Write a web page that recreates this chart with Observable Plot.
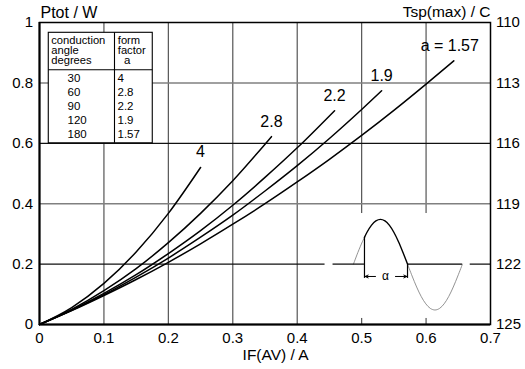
<!DOCTYPE html>
<html><head><meta charset="utf-8">
<script src="https://cdn.jsdelivr.net/npm/d3@7"></script>
<script src="https://cdn.jsdelivr.net/npm/@observablehq/plot@0.6"></script>
<style>body{margin:0;background:#fff;} #chart svg{display:block;}</style>
</head><body><div id="chart"></div>
<script>
// ---- data ----
const formFactors = [4, 2.8, 2.2, 1.9, 1.57];
const conductionAngles = [30, 60, 90, 120, 180];
const curveLabels = ["4", "2.8", "2.2", "1.9", "a = 1.57"];

const iA4   = [0, 0.05, 0.10, 0.15, 0.20, 0.25];
const pA4   = [0, 0.056, 0.136, 0.240, 0.368, 0.520];
const iA28  = [0, 0.05, 0.10, 0.15, 0.20, 0.25, 0.30, 0.36];
const pA28  = [0, 0.050, 0.112, 0.185, 0.271, 0.368, 0.476, 0.622];
const iA22  = [0, 0.05, 0.10, 0.15, 0.20, 0.25, 0.30, 0.35, 0.40, 0.458];
const pA22  = [0, 0.048, 0.103, 0.165, 0.235, 0.311, 0.395, 0.487, 0.585, 0.708];
const iA19  = [0, 0.05, 0.10, 0.15, 0.20, 0.25, 0.30, 0.35, 0.40, 0.45, 0.50, 0.531];
const pA19  = [0, 0.047, 0.099, 0.157, 0.220, 0.289, 0.362, 0.442, 0.526, 0.616, 0.712, 0.774];
const iA157 = [0, 0.05, 0.10, 0.15, 0.20, 0.25, 0.30, 0.35, 0.40, 0.45, 0.50, 0.55, 0.60, 0.643];
const pA157 = [0, 0.046, 0.096, 0.149, 0.206, 0.267, 0.332, 0.400, 0.472, 0.547, 0.626, 0.709, 0.796, 0.873];

const xTicks = [0, 0.1, 0.2, 0.3, 0.4, 0.5, 0.6, 0.7];
const xTickLabels = ["0", "0.1", "0.2", "0.3", "0.4", "0.5", "0.6", "0.7"];
const yTicks = [0, 0.2, 0.4, 0.6, 0.8, 1];
const yTickLabels = ["0", "0.2", "0.4", "0.6", "0.8", "1"];
const tempTickLabels = ["125", "122", "119", "116", "113", "110"];
const gridX = [0.1, 0.2, 0.3, 0.4, 0.5, 0.6];
const gridYDark = [0.2, 0.6];
const gridYLight = [0.4, 0.8];

// waveform inset (illustration), in chart units
const waveLead = [[0.4873,0.2],[0.4941,0.2383],[0.5011,0.274],[0.5044,0.2885]];
const wavePos  = [[0.5044,0.2885],[0.5081,0.3047],[0.5151,0.3282],[0.5221,0.343],[0.5292,0.348],[0.5362,0.343],[0.5432,0.3282],[0.5502,0.3047],[0.5572,0.274],[0.5642,0.2383],[0.5712,0.2]];
const waveNeg  = [[0.5712,0.2],[0.5783,0.1607],[0.5854,0.124],[0.5925,0.0925],[0.5996,0.0684],[0.6067,0.0532],[0.6138,0.048],[0.6209,0.0532],[0.628,0.0684],[0.6351,0.0925],[0.6422,0.124],[0.6493,0.1607],[0.6565,0.2]];

// ---- build tables ----
const seriesX = [iA4, iA28, iA22, iA19, iA157];
const seriesY = [pA4, pA28, pA22, pA19, pA157];
const curves = formFactors.flatMap((a, k) => seriesX[k].map((x, i) => ({a, x, y: seriesY[k][i]})));
const ends = formFactors.map((a, k) => ({a, label: curveLabels[k], x: seriesX[k].at(-1), y: seriesY[k].at(-1)}));

const font = "Liberation Sans, Arial, Helvetica, sans-serif";
// table layout
const T = {x1: 0.0144, x2: 0.1758, xc: 0.1164, y1: 0.6, y2: 0.9659, yh: 0.8434};
const rowY0 = 0.8023, rowStep = 0.0466;
const rows = conductionAngles.map((d, i) => ({angle: String(d), ff: String(formFactors[i]), y: rowY0 - i * rowStep}));
const head1 = [{t: "conduction", y: 0.9301}, {t: "angle", y: 0.8963}, {t: "degrees", y: 0.8625}];
const head2 = [{t: "form", y: 0.9301}, {t: "factor", y: 0.8963}];

const chart = Plot.plot({
  width: 525, height: 369,
  marginLeft: 39, marginRight: 35, marginTop: 22, marginBottom: 45,
  x: {domain: [0, 0.7]},
  y: {domain: [0, 1]},
  style: {fontFamily: font, background: "white", color: "black"},
  marks: [
    Plot.ruleX(gridX, {stroke: "#555", strokeWidth: 1.2}),
    Plot.ruleY(gridYDark, {stroke: "#111", strokeWidth: 1.2}),
    Plot.ruleY(gridYLight, {stroke: "#808080", strokeWidth: 1.5}),
    // inset background
    Plot.rect([0], {x1: 0.4432, x2: 0.6685, y1: 0.02, y2: 0.3675, fill: "white"}),
    // table
    Plot.rect([0], {x1: T.x1, x2: T.x2, y1: T.y1, y2: T.y2, fill: "white", stroke: "black", strokeWidth: 1.1}),
    Plot.ruleY([T.yh], {x1: T.x1, x2: T.x2, stroke: "black", strokeWidth: 1.1}),
    Plot.ruleX([T.xc], {y1: T.y1, y2: T.y2, stroke: "black", strokeWidth: 1.1}),
    Plot.text(head1, {x: 0.0182, y: "y", text: "t", textAnchor: "start", lineAnchor: "bottom", fontSize: 11.2}),
    Plot.text(head2, {x: 0.1215, y: "y", text: "t", textAnchor: "start", lineAnchor: "bottom", fontSize: 11.2}),
    Plot.text(["a"], {x: 0.1361, y: 0.8625, text: d => d, textAnchor: "middle", lineAnchor: "bottom", fontSize: 11.5}),
    Plot.text(rows, {x: 0.0435, y: "y", text: "angle", textAnchor: "start", lineAnchor: "bottom", fontSize: 11.5}),
    Plot.text(rows, {x: 0.1211, y: "y", text: "ff", textAnchor: "start", lineAnchor: "bottom", fontSize: 11.5}),
    // curves
    Plot.line(curves, {x: "x", y: "y", z: "a", stroke: "black", strokeWidth: 1.5, curve: "monotone-x"}),
    Plot.text(ends, {x: "x", y: "y", text: "label", dy: -10, lineAnchor: "bottom", fontSize: 16, filter: d => d.a !== 1.57}),
    Plot.text(ends, {x: "x", y: "y", text: "label", dy: -10, dx: -4, lineAnchor: "bottom", fontSize: 16, filter: d => d.a === 1.57}),
    // waveform inset
    Plot.line(waveLead, {x: d => d[0], y: d => d[1], stroke: "#777", strokeWidth: 0.8, curve: "catmull-rom"}),
    Plot.line(waveNeg, {x: d => d[0], y: d => d[1], stroke: "#777", strokeWidth: 0.8, curve: "catmull-rom"}),
    Plot.line(wavePos, {x: d => d[0], y: d => d[1], stroke: "black", strokeWidth: 1.4, curve: "catmull-rom"}),
    Plot.ruleY([0.2], {x1: 0.4556, x2: 0.5044, stroke: "black", strokeWidth: 1.2}),
    Plot.ruleY([0.2], {x1: 0.5712, x2: 0.6565, stroke: "black", strokeWidth: 1.2}),
    Plot.ruleX([0.5044], {y1: 0.1526, y2: 0.2885, stroke: "black", strokeWidth: 1.2}),
    Plot.ruleX([0.5712], {y1: 0.1526, y2: 0.2, stroke: "black", strokeWidth: 1.2}),
    Plot.arrow([{x1: 0.5215, x2: 0.5054}, {x1: 0.5525, x2: 0.5702}], {x1: "x1", x2: "x2", y1: 0.159, y2: 0.159, stroke: "black", strokeWidth: 1, headLength: 5, headAngle: 50}),
    Plot.text(["α"], {x: 0.5368, y: 0.159, text: d => d, fontSize: 12}),
    // frame and axes
    Plot.frame({stroke: "black", strokeWidth: 1.5}),
    Plot.ruleX([0], {stroke: "black", strokeWidth: 2}),
    Plot.ruleY([0], {stroke: "black", strokeWidth: 2}),
    Plot.axisX({ticks: xTicks, tickFormat: d => xTickLabels[xTicks.indexOf(d)], tickSize: 0, tickPadding: 8, fontSize: 15, label: null}),
    Plot.axisY({ticks: yTicks, tickFormat: d => yTickLabels[yTicks.indexOf(d)], tickSize: 0, tickPadding: 6.5, fontSize: 15, label: null}),
    Plot.axisY({anchor: "right", ticks: yTicks, tickFormat: d => tempTickLabels[yTicks.indexOf(d)], tickSize: 0, tickPadding: 5.5, fontSize: 15, label: null}),
    Plot.text(["Ptot / W"], {frameAnchor: "top-left", text: d => d, textAnchor: "start", lineAnchor: "bottom", dx: 1, dy: -5, fontSize: 16}),
    Plot.text(["Tsp(max) / C"], {frameAnchor: "top-right", text: d => d, textAnchor: "end", lineAnchor: "bottom", dx: 0, dy: -6, fontSize: 15.5}),
    Plot.text(["IF(AV) / A"], {frameAnchor: "bottom", text: d => d, textAnchor: "middle", lineAnchor: "bottom", dx: 10.6, dy: 35, fontSize: 15.5})
  ]
});
document.getElementById("chart").appendChild(chart);
</script>
</body></html>
